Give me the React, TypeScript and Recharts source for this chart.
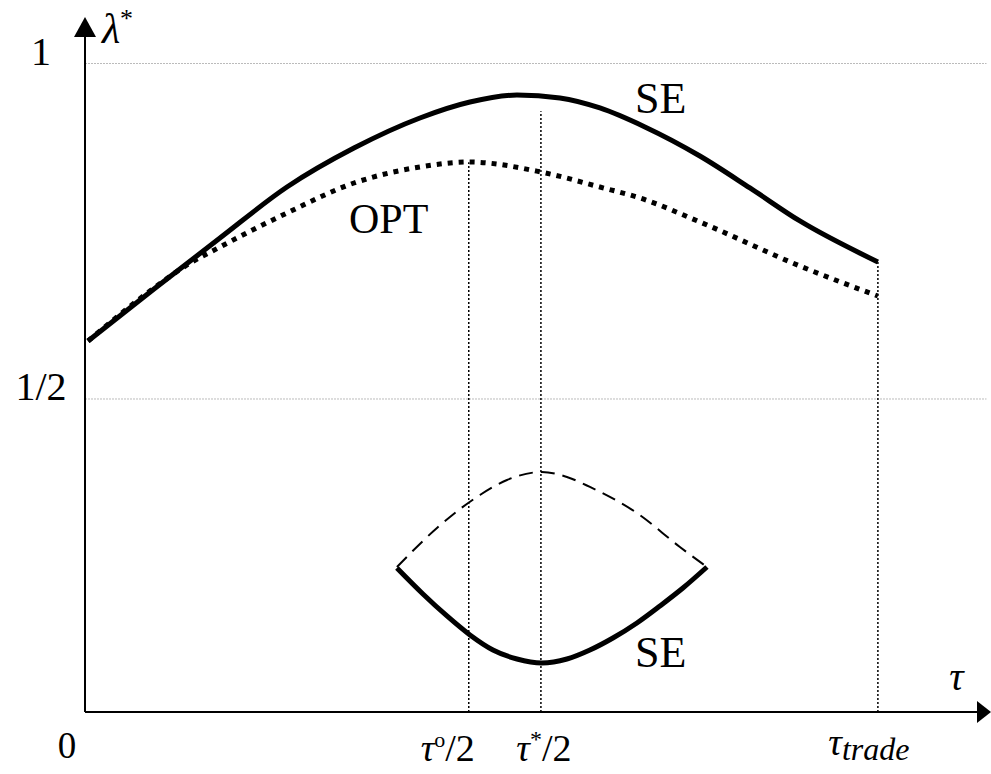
import { LineChart, Line, XAxis, YAxis, ReferenceLine, ReferenceDot } from 'recharts';

// x in units of tau_trade, y = lambda*
const seUpper = [
  { x: 0.0038, y: 0.5864 },
  { x: 0.0870, y: 0.6639 },
  { x: 0.1702, y: 0.7399 },
  { x: 0.2547, y: 0.8159 },
  { x: 0.3392, y: 0.8740 },
  { x: 0.4224, y: 0.9188 },
  { x: 0.4855, y: 0.9426 },
  { x: 0.5448, y: 0.9531 },
  { x: 0.5990, y: 0.9486 },
  { x: 0.6494, y: 0.9337 },
  { x: 0.7062, y: 0.9054 },
  { x: 0.7755, y: 0.8621 },
  { x: 0.8386, y: 0.8145 },
  { x: 0.9016, y: 0.7653 },
  { x: 1.0, y: 0.7042 },
];

const optCurve = [
  { x: 0.0038, y: 0.5864 },
  { x: 0.0870, y: 0.6654 },
  { x: 0.1286, y: 0.6997 },
  { x: 0.1702, y: 0.7265 },
  { x: 0.2547, y: 0.7772 },
  { x: 0.3392, y: 0.8219 },
  { x: 0.4224, y: 0.8458 },
  { x: 0.4842, y: 0.8532 },
  { x: 0.5750, y: 0.8383 },
  { x: 0.6494, y: 0.8159 },
  { x: 0.6999, y: 0.7996 },
  { x: 0.7755, y: 0.7638 },
  { x: 0.9016, y: 0.6982 },
  { x: 1.0, y: 0.6535 },
];

const lowerDashed = [
  { x: 0.3934, y: 0.2496 },
  { x: 0.4439, y: 0.3077 },
  { x: 0.4981, y: 0.3569 },
  { x: 0.5322, y: 0.3793 },
  { x: 0.5763, y: 0.3912 },
  { x: 0.6078, y: 0.3838 },
  { x: 0.6368, y: 0.3689 },
  { x: 0.6961, y: 0.3301 },
  { x: 0.7503, y: 0.2794 },
  { x: 0.7844, y: 0.2496 },
];

const lowerSE = [
  { x: 0.3934, y: 0.2481 },
  { x: 0.4262, y: 0.2094 },
  { x: 0.4565, y: 0.1766 },
  { x: 0.4855, y: 0.1483 },
  { x: 0.5145, y: 0.1259 },
  { x: 0.5448, y: 0.1125 },
  { x: 0.5763, y: 0.1066 },
  { x: 0.6078, y: 0.1125 },
  { x: 0.6368, y: 0.1259 },
  { x: 0.6658, y: 0.1438 },
  { x: 0.6961, y: 0.1662 },
  { x: 0.7251, y: 0.1915 },
  { x: 0.7541, y: 0.2183 },
  { x: 0.7844, y: 0.2496 },
];

const xMin = 0;
const xMax = 1.125;
const yMin = 0.0335;
const yMax = 1.0395;

const tauOptHalf = 0.484;
const tauStarHalf = 0.575;
const tauTrade = 1.0;

const xTicks = [0, tauOptHalf, tauStarHalf, tauTrade];
const yTicks = [0.5, 1];
const yTickLabels: Record<string, string> = { '0.5': '1/2', '1': '1' };

const txt = (size: number, italic = false): React.CSSProperties => ({
  fontFamily: "'Liberation Serif'",
  fontSize: size,
  fontStyle: italic ? 'italic' : 'normal',
  fill: '#000',
});

const XTick = (props: any) => {
  const { x, y, payload } = props;
  const v = payload.value;
  const base = y + 38;
  if (v === 0) {
    return <text x={x - 18} y={base} textAnchor="middle" style={txt(37)}>0</text>;
  }
  if (v === tauOptHalf) {
    return (
      <text x={x - 21} y={base + 3} textAnchor="middle" style={txt(38)}>
        <tspan style={{ fontStyle: 'italic' }}>τ</tspan>
        <tspan style={{ fontSize: 22 }} dy={-14}>o</tspan>
        <tspan dy={14}>/2</tspan>
      </text>
    );
  }
  if (v === tauStarHalf) {
    return (
      <text x={x + 3} y={base + 3} textAnchor="middle" style={txt(38)}>
        <tspan style={{ fontStyle: 'italic' }}>τ</tspan>
        <tspan style={{ fontSize: 24 }} dy={-14}>*</tspan>
        <tspan dy={14}>/2</tspan>
      </text>
    );
  }
  return (
    <text x={x - 9} y={base - 3} textAnchor="middle" style={txt(38, true)}>
      <tspan>τ</tspan>
      <tspan style={{ fontSize: 32 }} dy={5}>trade</tspan>
    </text>
  );
};

const YTick = (props: any) => {
  const { x, y, payload } = props;
  return (
    <text x={x - 36} y={y + 1} textAnchor="middle" style={txt(40)}>
      {yTickLabels[String(payload.value)]}
    </text>
  );
};

const TextAt = (label: React.ReactNode, size: number, italic = false) => (p: any) => (
  <text x={p.cx} y={p.cy} textAnchor="middle" style={txt(size, italic)}>
    {label}
  </text>
);

const guide = { stroke: '#000', strokeWidth: 1.5, strokeDasharray: '2 2' };

export default function App() {
  return (
    <div style={{ position: 'absolute', left: 0, top: 0, background: '#fff' }}>
      <LineChart width={991} height={774} margin={{ top: 37, right: 14, bottom: 0, left: 0 }}>
        <XAxis
          type="number"
          dataKey="x"
          domain={[xMin, xMax]}
          ticks={xTicks}
          tick={XTick}
          tickLine={false}
          axisLine={{ stroke: '#000', strokeWidth: 2 }}
          height={62}
          allowDataOverflow
        />
        <YAxis
          type="number"
          dataKey="y"
          domain={[yMin, yMax]}
          ticks={yTicks}
          tick={YTick}
          tickLine={false}
          axisLine={{ stroke: '#000', strokeWidth: 2 }}
          width={85}
          allowDataOverflow
        />

        {/* light grid lines at 1/2 and 1 */}
        <ReferenceLine
          segment={[{ x: 0, y: 1 }, { x: 1.137, y: 1 }]}
          stroke="#bbb"
          strokeDasharray="2 1"
          ifOverflow="visible"
        />
        <ReferenceLine
          segment={[{ x: 0, y: 0.5 }, { x: 1.137, y: 0.5 }]}
          stroke="#bbb"
          strokeDasharray="2 1"
          ifOverflow="visible"
        />

        {/* vertical dotted guides */}
        <ReferenceLine segment={[{ x: tauOptHalf, y: yMin }, { x: tauOptHalf, y: 0.853 }]} {...guide} />
        <ReferenceLine segment={[{ x: tauStarHalf, y: yMin }, { x: tauStarHalf, y: 0.929 }]} {...guide} />
        <ReferenceLine segment={[{ x: tauTrade, y: yMin }, { x: tauTrade, y: 0.704 }]} {...guide} />

        <Line data={optCurve} dataKey="y" type="monotoneX" stroke="#000" strokeWidth={5} strokeDasharray="5 6" dot={false} isAnimationActive={false} />
        <Line data={seUpper} dataKey="y" type="monotoneX" stroke="#000" strokeWidth={5} dot={false} isAnimationActive={false} />
        <Line data={lowerDashed} dataKey="y" type="monotoneX" stroke="#000" strokeWidth={2} strokeDasharray="14 8" dot={false} isAnimationActive={false} />
        <Line data={lowerSE} dataKey="y" type="monotoneX" stroke="#000" strokeWidth={5} dot={false} isAnimationActive={false} />

        {/* axis arrows */}
        <ReferenceDot
          x={xMax}
          y={yMin}
          r={0}
          ifOverflow="visible"
          shape={(p: any) => <polygon points={`${p.cx},${p.cy - 11} ${p.cx + 14},${p.cy} ${p.cx},${p.cy + 11}`} fill="#000" />}
        />
        <ReferenceDot
          x={xMin}
          y={yMax}
          r={0}
          ifOverflow="visible"
          shape={(p: any) => <polygon points={`${p.cx - 11},${p.cy} ${p.cx},${p.cy - 20} ${p.cx + 11},${p.cy}`} fill="#000" />}
        />

        {/* labels */}
        <ReferenceDot x={0.726} y={0.926} r={0} ifOverflow="visible" shape={TextAt('SE', 44)} />
        <ReferenceDot x={0.383} y={0.747} r={0} ifOverflow="visible" shape={TextAt('OPT', 42)} />
        <ReferenceDot x={0.726} y={0.101} r={0} ifOverflow="visible" shape={TextAt('SE', 44)} />
        <ReferenceDot x={1.099} y={0.066} r={0} ifOverflow="visible" shape={TextAt('τ', 40, true)} />
        <ReferenceDot
          x={0.041}
          y={1.031}
          r={0}
          ifOverflow="visible"
          shape={TextAt(
            <>
              <tspan>λ</tspan>
              <tspan style={{ fontSize: 26, fontStyle: 'normal' }} dy={-16}>*</tspan>
            </>,
            42,
            true
          )}
        />
      </LineChart>
    </div>
  );
}
